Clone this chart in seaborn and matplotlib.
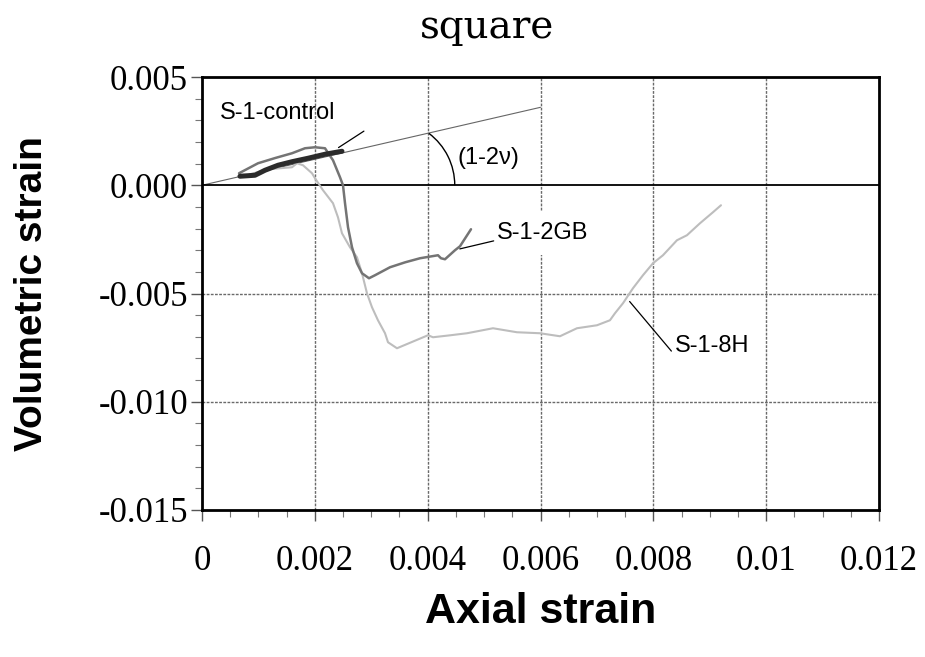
import numpy as np
import pandas as pd
import matplotlib
matplotlib.use("Agg")
import matplotlib.pyplot as plt
from matplotlib.patches import Arc
from matplotlib.ticker import MultipleLocator
import seaborn as sns

# ---------------- data ----------------
control_x = [0.000673, 0.000939, 0.001117, 0.001347, 0.001600, 0.001879, 0.002180, 0.002481]
control_y = [0.000416, 0.000462, 0.000693, 0.000924, 0.001090, 0.001247, 0.001432, 0.001570]

gb_x = [0.000656, 0.000993, 0.001300, 0.001595, 0.001826, 0.002003, 0.002180, 0.002286,
        0.002322, 0.002446, 0.002499, 0.002535, 0.002588, 0.002659, 0.002747, 0.002836,
        0.002960, 0.003066, 0.003332, 0.003600, 0.003864, 0.004183, 0.004236, 0.004307,
        0.004484, 0.004573, 0.004768]
gb_y = [0.000554, 0.001016, 0.001260, 0.001478, 0.001709, 0.001755, 0.001709, 0.001293,
        0.001155, 0.000370, 0.000000, -0.000831, -0.001940, -0.002864, -0.003603, -0.004065,
        -0.004296, -0.004157, -0.003788, -0.003560, -0.003372, -0.003233, -0.003372, -0.003418,
        -0.003002, -0.002818, -0.002032]

h8_x = [0.000851, 0.001170, 0.001595, 0.001684, 0.001790, 0.001950, 0.002003, 0.002145,
        0.002322, 0.002410, 0.002481, 0.002623, 0.002747, 0.002836, 0.002924, 0.003013,
        0.003119, 0.003244, 0.003297, 0.003456, 0.004006, 0.004094, 0.004400, 0.004697,
        0.005158, 0.005583, 0.005991, 0.006345, 0.006646, 0.007001, 0.007231, 0.007320,
        0.007462, 0.007639, 0.007816, 0.007994, 0.008171, 0.008419, 0.008596, 0.008827,
        0.009057, 0.009199]
h8_y = [0.000508, 0.000739, 0.000831, 0.001016, 0.000924, 0.000554, 0.000323, -0.000231,
        -0.000831, -0.001478, -0.002217, -0.002864, -0.003326, -0.004065, -0.004988, -0.005635,
        -0.006236, -0.006836, -0.007252, -0.007529, -0.006928, -0.007021, -0.006930, -0.006836,
        -0.006605, -0.006790, -0.006836, -0.006975, -0.006605, -0.006467, -0.006236, -0.005912,
        -0.005450, -0.004758, -0.004157, -0.003603, -0.003233, -0.002540, -0.002309, -0.001755,
        -0.001247, -0.000924]

series_names = ["S-1-8H", "S-1-2GB", "S-1-control"]

# reference line (1-2v) slope
ref_slope = 0.6
ref_x_end = 0.006

x_ticks = [0, 0.002, 0.004, 0.006, 0.008, 0.010, 0.012]
x_tick_labels = ["0", "0.002", "0.004", "0.006", "0.008", "0.01", "0.012"]
y_ticks = [-0.015, -0.010, -0.005, 0.000, 0.005]
y_tick_labels = ["-0.015", "-0.010", "-0.005", "0.000", "0.005"]

# annotation leader lines (x0, y0, x1, y1)
leader_control = [0.00242, 0.00174, 0.00287, 0.00250]
leader_gb = [0.00457, -0.00294, 0.00517, -0.00257]
leader_h8 = [0.00758, -0.00537, 0.00832, -0.00766]

# ---------------- figure ----------------
sns.set_theme(style="white")
plt.rcParams["font.family"] = ["Liberation Sans", "DejaVu Sans"]
plt.rcParams["text.color"] = "black"
plt.rcParams["axes.labelcolor"] = "black"

fig = plt.figure(figsize=(9.25, 6.57), dpi=100)
ax = fig.add_axes([202 / 925, 1 - 510 / 657, 677 / 925, 433 / 657])

df_h8 = pd.DataFrame({"x": h8_x, "y": h8_y})
df_gb = pd.DataFrame({"x": gb_x, "y": gb_y})
df_c = pd.DataFrame({"x": control_x, "y": control_y})

sns.lineplot(data=df_h8, x="x", y="y", sort=False, estimator=None, ax=ax,
             color="#bdbdbd", lw=1.5, zorder=3)
sns.lineplot(data=df_gb, x="x", y="y", sort=False, estimator=None, ax=ax,
             color="#747474", lw=1.8, zorder=4)
sns.lineplot(data=df_c, x="x", y="y", sort=False, estimator=None, ax=ax,
             color="#2b2b2b", lw=3.6, zorder=5)

# reference slope line
ax.plot([0, ref_x_end], [0, ref_slope * ref_x_end], color="#666666", lw=0.8, zorder=2)
# angle arc (circular in pixel space)
arc_w, arc_h = 2 * 0.00115, 2 * 0.0030
t_end = np.radians(53)
theta2 = np.degrees(np.arctan2(arc_h * np.sin(t_end), arc_w * np.cos(t_end)))
ax.add_patch(Arc((0.00333, 0.0), arc_w, arc_h, theta1=0, theta2=theta2,
                 color="black", lw=1.0, zorder=2))

# zero line
ax.axhline(0, color="black", lw=1.3, zorder=2)

ax.set_xlim(0, 0.012)
ax.set_ylim(-0.015, 0.005)
ax.set_xticks(x_ticks)
ax.set_xticklabels(x_tick_labels)
ax.set_yticks(y_ticks)
ax.set_yticklabels(y_tick_labels)
ax.xaxis.set_minor_locator(MultipleLocator(0.0005))
ax.yaxis.set_minor_locator(MultipleLocator(0.001))

# grid
for gx in x_ticks[1:-1]:
    ax.axvline(gx, color="#6a6a6a", lw=1.0, ls=(0, (2, 1)), zorder=1)
for gy in [-0.010, -0.005]:
    ax.axhline(gy, color="#6a6a6a", lw=1.0, ls=(0, (2, 1)), zorder=1)

for s in ax.spines.values():
    s.set_visible(True)
    s.set_color("black")
    s.set_linewidth(2.0)

ax.tick_params(axis="both", which="major", direction="out", length=8, width=1.0,
               color="#555555", bottom=True, left=True)
ax.tick_params(axis="both", which="minor", direction="out", length=5, width=0.8,
               color="#777777", bottom=True, left=True)
ax.tick_params(axis="x", which="major", pad=17)
ax.tick_params(axis="y", which="major", pad=2)
for lab in ax.get_xticklabels() + ax.get_yticklabels():
    lab.set_family(["Liberation Serif", "DejaVu Serif"])
    lab.set_fontsize(25)
    lab.set_color("black")

ax.set_xlabel("Axial strain", fontsize=31, fontweight="bold", color="black")
ax.xaxis.set_label_coords(0.5, -0.19)
ax.set_ylabel("Volumetric strain", fontsize=28, fontweight="bold", color="black")
ax.yaxis.set_label_coords(-0.225, 0.5)

# title
fig.text(487 / 925, 1 - 38 / 657, "square", ha="center", va="baseline",
         fontsize=28, family=["DejaVu Serif"], color="black")

# labels
ax.text(0.00032, 0.00305, "S-1-control", fontsize=17, va="baseline", ha="left", zorder=6)
ax.text(0.00452, 0.00100, "(1-2\u03bd)", fontsize=17, va="baseline", ha="left", zorder=6)
ax.text(0.00523, -0.00250, "S-1-2GB", fontsize=17, va="baseline", ha="left", zorder=6,
        bbox=dict(fc="white", ec="none", pad=8))
ax.text(0.00838, -0.00771, "S-1-8H", fontsize=17, va="baseline", ha="left", zorder=6,
        bbox=dict(fc="white", ec="none", pad=9))

for ld in [leader_control, leader_gb, leader_h8]:
    ax.plot([ld[0], ld[2]], [ld[1], ld[3]], color="black", lw=0.9, zorder=6)

fig.savefig("out.png", dpi=100, facecolor="white")
